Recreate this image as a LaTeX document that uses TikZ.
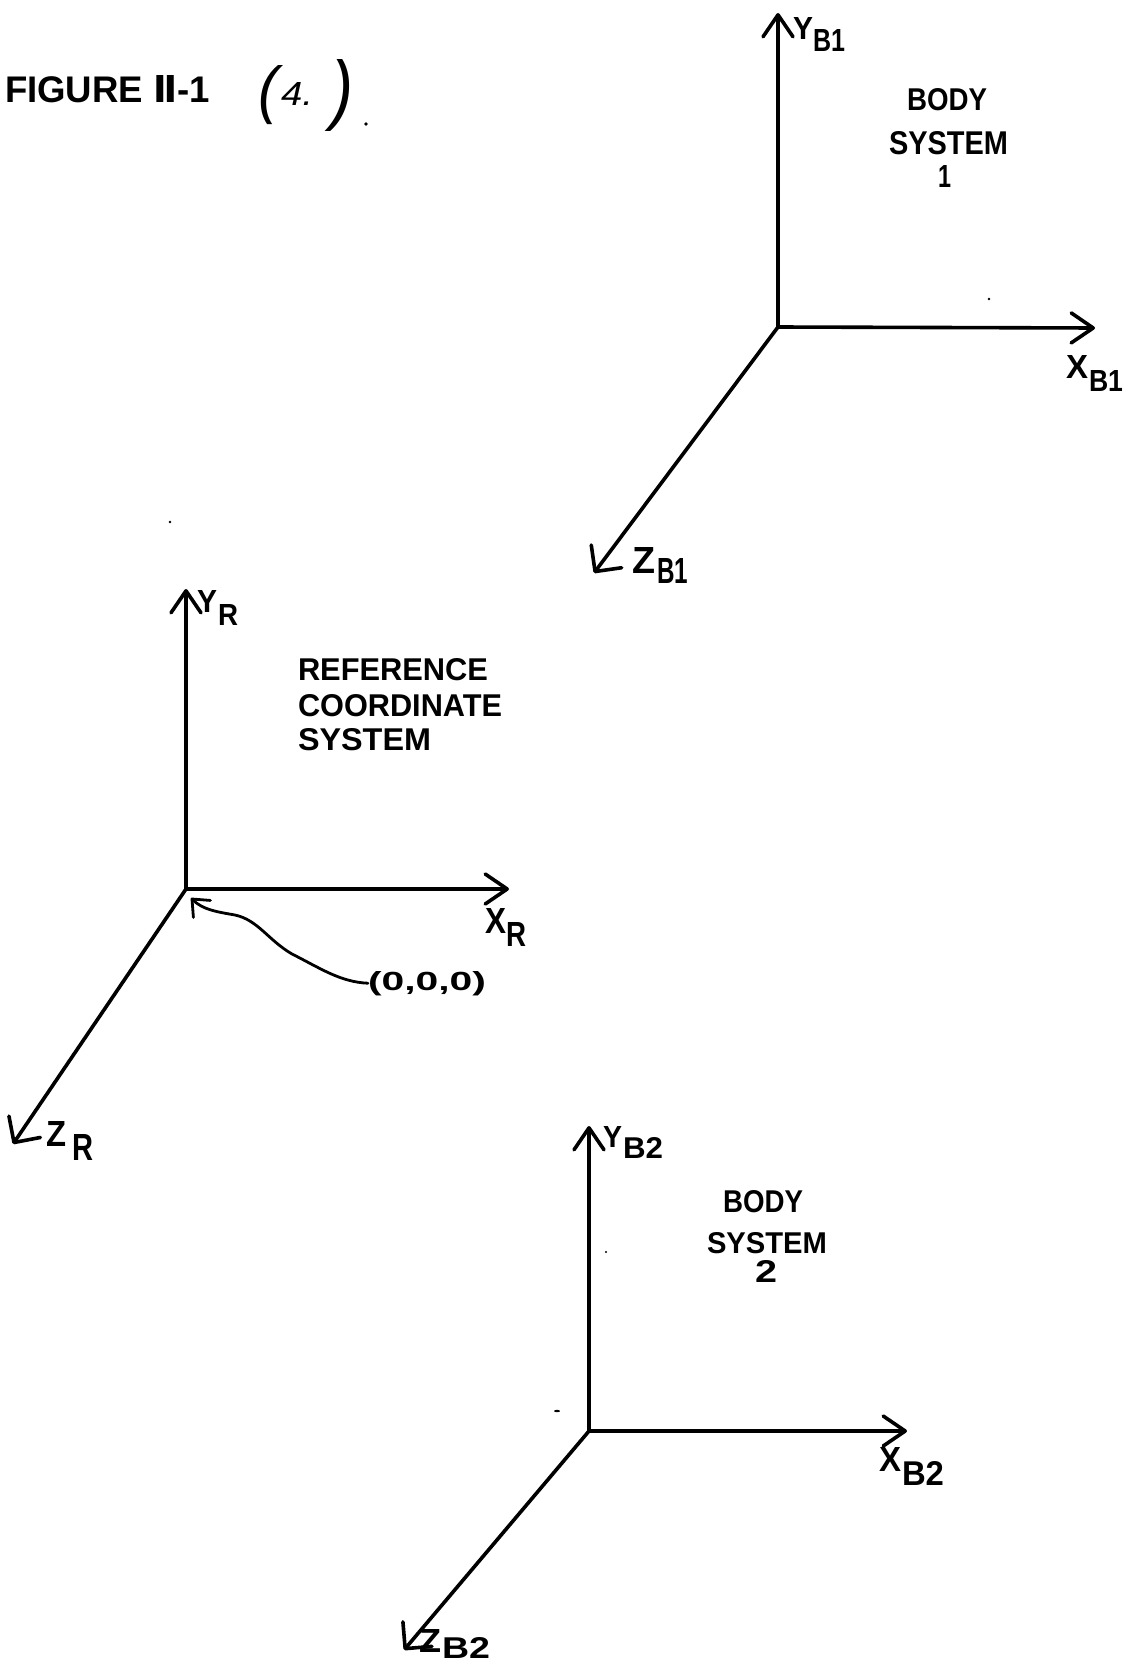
\documentclass[tikz,border=0pt]{standalone}
\usepackage{fontspec}
\setmainfont{Liberation Sans}
\newfontfamily\dejavu{DejaVu Sans}
\usetikzlibrary{arrows.meta}
\newcommand\fit[3]{\resizebox{#1pt}{#2pt}{\bfseries #3}}
\newcommand\fitit[3]{\resizebox{#1pt}{#2pt}{\itshape #3}}
\begin{document}
\begin{tikzpicture}[x=1pt,y=-1pt,
  axis/.style={line width=3.6pt, line cap=round, -{Straight Barb[length=22pt,width=30pt,round]}},
  zaxis/.style={line width=3.6pt, line cap=round, -{Straight Barb[length=19pt,width=38pt,round]}},
  pointer/.style={line width=2.8pt, line cap=round, -{Straight Barb[length=14pt,width=24pt,round]}},
  txt/.style={inner sep=0pt, outer sep=0pt, anchor=base west},
  speck/.style={fill=black}]
\useasboundingbox (0,0) rectangle (1128,1664);

% ---- title ----
\node[txt] (title) at (5,103) {\fit{205}{27}{FIGURE {\dejavu\bfseries Ⅱ}-1}};
\node[txt] (num) at (258,112) {\fitit{20}{46}{(}\hspace{3pt}\raisebox{6pt}{\fitit{32}{23}{4.}}\hspace{18pt}\raisebox{-4pt}{\fitit{22}{56}{)}}};
\fill[speck] (366,124) circle (1.8pt);

% ---- body system 1 ----
\coordinate (o1) at (778,327);
\coordinate (y1) at (778,13);
\coordinate (x1) at (1095,328);
\coordinate (z1) at (594,573);
\draw[axis] (o1) -- (y1);
\draw[axis] (o1) -- (x1);
\draw[zaxis] (o1) -- (z1);
\node[txt] (ly1) at (793,40) {\fit{20}{22}{Y}\raisebox{-12pt}{\fit{32}{22}{B1}}};
\node[txt] (lx1) at (1066,378) {\fit{22}{23}{X}\hspace{1pt}\raisebox{-13pt}{\fit{34}{21}{B1}}};
\node[txt] (lz1) at (632,573) {\fit{23}{26}{Z}\hspace{2pt}\raisebox{-10pt}{\fit{31}{25}{B1}}};
\node[txt] (b1a) at (907,111) {\fit{80}{22}{BODY}};
\node[txt] (b1b) at (889,155) {\fit{119}{23}{SYSTEM}};
\node[txt] (b1c) at (938,188) {\fit{13}{22}{1}};

% ---- reference system ----
\coordinate (oR) at (186,889);
\coordinate (yR) at (186,589);
\coordinate (xR) at (509,889);
\coordinate (zR) at (13,1144);
\coordinate (pR) at (191,898);
\draw[axis] (oR) -- (yR);
\draw[axis] (oR) -- (xR);
\draw[zaxis] (oR) -- (zR);
\node[txt] (lyR) at (197,612) {\fit{20}{22}{Y}\hspace{1pt}\raisebox{-13pt}{\fit{20}{21}{R}}};
\node[txt] (lxR) at (485,933) {\fit{21}{25}{X}\hspace{0pt}\raisebox{-13pt}{\fit{20}{24}{R}}};
\node[txt] (lzR) at (46,1146) {\fit{20}{25}{Z}\hspace{6pt}\raisebox{-14pt}{\fit{21}{26}{R}}};
\node[txt] (rA) at (298,680) {\fit{190}{22}{REFERENCE}};
\node[txt] (rB) at (298,716) {\fit{204}{22}{COORDINATE}};
\node[txt] (rC) at (298,750) {\fit{133}{22}{SYSTEM}};
\node[txt] (lorig) at (368,990) {\fit{118}{19}{(0,0,0)}};
\draw[pointer] (lorig.west) .. controls (340,982) and (320,968) .. (292,954)
  .. controls (268,940) and (258,920) .. (235,915)
  .. controls (218,912) and (203,910) .. (pR);

% ---- body system 2 ----
\coordinate (o2) at (589,1431);
\coordinate (y2) at (589,1126);
\coordinate (x2) at (907,1431);
\coordinate (z2) at (404,1650);
\draw[axis] (o2) -- (y2);
\draw[axis] (o2) -- (x2);
\draw[zaxis] (o2) -- (z2);
\node[txt] (ly2) at (603,1147) {\fit{19}{21}{Y}\hspace{1pt}\raisebox{-11pt}{\fit{40}{21}{B2}}};
\node[txt] (lx2) at (879,1471) {\fit{22}{24}{X}\hspace{1pt}\raisebox{-14pt}{\fit{42}{24}{B2}}};
\node[txt] (lz2) at (419,1652) {\fit{22}{23}{Z}\hspace{1pt}\raisebox{-6pt}{\fit{48}{21}{B2}}};
\node[txt] (b2a) at (723,1212) {\fit{80}{22}{BODY}};
\node[txt] (b2b) at (707,1253) {\fit{120}{21}{SYSTEM}};
\node[txt] (b2c) at (755,1282) {\fit{22}{22}{2}};

% ---- specks ----
\fill[speck] (989,299) circle (1.4pt);
\fill[speck] (170,522) circle (1.4pt);
\fill[speck] (606,1252) circle (1.2pt);
\fill[speck] (557,1411) ellipse (3pt and 1.2pt);
\end{tikzpicture}
\end{document}
